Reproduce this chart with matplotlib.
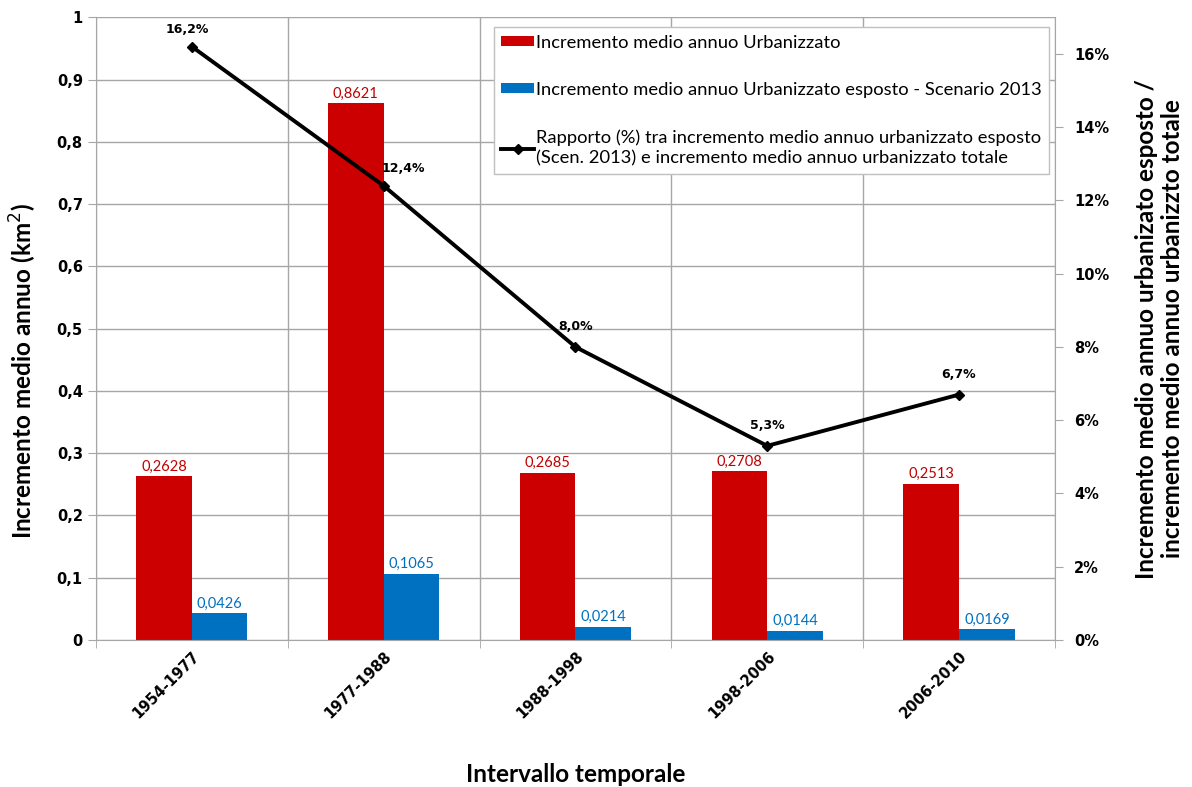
import matplotlib as mpl
mpl.use("Agg")
import matplotlib.pyplot as plt
import matplotlib.transforms as mtransforms
from matplotlib.ticker import FuncFormatter, MultipleLocator, FixedLocator
import numpy as np

periodi = ["1954-1977", "1977-1988", "1988-1998", "1998-2006", "2006-2010"]
urbanizzato = [0.2628, 0.8621, 0.2685, 0.2708, 0.2513]
esposto = [0.0426, 0.1065, 0.0214, 0.0144, 0.0169]
rapporto = [16.2, 12.4, 8.0, 5.3, 6.7]

lab_urb = "Incremento medio annuo Urbanizzato"
lab_esp = "Incremento medio annuo Urbanizzato esposto - Scenario 2013"
lab_rap = ("Rapporto (%) tra incremento medio annuo urbanizzato esposto\n"
           "(Scen. 2013) e incremento medio annuo urbanizzato totale")

RED = "#CC0000"
RED_TXT = "#C00000"
BLUE = "#0070C0"
GRID = "#A6A6A6"
SANS = ["Lato", "DejaVu Sans"]


def comma(v, _=None):
    s = f"{v:.1f}".replace(".", ",")
    return "0" if abs(v) < 1e-9 else ("1" if abs(v - 1) < 1e-9 else s)


fig = plt.figure(figsize=(11.92, 7.87), dpi=100)
ax = fig.add_axes([0.0805, 0.1868, 0.8045, 0.7912])
x = np.arange(len(periodi))
w = 0.29
b1 = ax.bar(x - w / 2, urbanizzato, w, color=RED, label=lab_urb, zorder=2)
b2 = ax.bar(x + w / 2, esposto, w, color=BLUE, label=lab_esp, zorder=2)
for bars, vals, col in [(b1, urbanizzato, RED_TXT), (b2, esposto, BLUE)]:
    for r, v in zip(bars, vals):
        ax.annotate(f"{v:.4f}".replace(".", ","),
                    (r.get_x() + r.get_width() / 2, v),
                    xytext=(0, 2), textcoords="offset points", ha="center",
                    va="bottom", color=col, fontsize=10.5, family=SANS)

ax.set_xlim(-0.5, len(periodi) - 0.5)
ax.set_ylim(0, 1)
ax.yaxis.set_major_locator(MultipleLocator(0.1))
ax.yaxis.set_major_formatter(FuncFormatter(comma))
ax.set_xticks(x)
ax.set_xticklabels(periodi, rotation=45, ha="right", rotation_mode="anchor",
                   fontsize=10.5, fontweight="bold")
offset = mtransforms.ScaledTranslation(-0.36, -0.14, fig.dpi_scale_trans)
for lbl in ax.get_xticklabels():
    lbl.set_transform(lbl.get_transform() + offset)
ax.xaxis.set_minor_locator(FixedLocator(np.arange(-0.5, len(periodi), 1.0)))
ax.tick_params(axis="x", which="major", length=0, pad=6)
ax.tick_params(axis="x", which="minor", length=6, color=GRID)
ax.tick_params(axis="y", length=6, color=GRID, labelsize=10.5)
for t in ax.get_yticklabels():
    t.set_fontweight("bold")
ax.grid(axis="y", color=GRID, lw=1, zorder=0)
ax.grid(axis="x", which="minor", color=GRID, lw=1, zorder=0)
ax.set_axisbelow(True)
for s in ["top", "right"]:
    ax.spines[s].set_visible(False)
for s in ["left", "bottom"]:
    ax.spines[s].set_color(GRID)
ax.set_ylabel("Incremento medio annuo (km$^2$)", fontsize=17.5,
              fontweight="bold", family=SANS, labelpad=13, y=0.432)
ax.set_xlabel("Intervallo temporale", fontsize=17.5, fontweight="bold",
              family=SANS, labelpad=30)

ax2 = ax.twinx()
ln, = ax2.plot(x, rapporto, color="black", lw=2.8, marker="D", ms=5,
               label=lab_rap, zorder=3)
offs = [(-3, 8), (14, 8), (0, 10), (0, 10), (0, 10)]
for xi, v, o in zip(x, rapporto, offs):
    ax2.annotate(f"{v:.1f}%".replace(".", ","), (xi, v), xytext=o,
                 textcoords="offset points", ha="center", va="bottom",
                 fontsize=9, fontweight="bold")
ax2.set_ylim(0, 17)
ax2.yaxis.set_major_locator(MultipleLocator(2))
ax2.yaxis.set_major_formatter(FuncFormatter(lambda v, _: f"{v:.0f}%"))
ax2.tick_params(axis="y", length=6, color=GRID, labelsize=10.5, pad=8)
for t in ax2.get_yticklabels():
    t.set_fontweight("bold")
for s in ["top", "left", "bottom"]:
    ax2.spines[s].set_visible(False)
ax2.spines["right"].set_color(GRID)
ax2.set_ylabel("Incremento medio annuo urbanizato esposto /\n"
               "incremento medio annuo urbanizzto totale", fontsize=17.5,
               fontweight="bold", family=SANS, labelpad=18)

leg = ax2.legend([b1, b2, ln], [lab_urb, lab_esp, lab_rap], loc="upper right",
                 bbox_to_anchor=(0.994, 0.984), fancybox=False, framealpha=1,
                 edgecolor="#C0C0C0", prop={"family": SANS, "size": 13.2},
                 labelspacing=1.7, handlelength=1.8, handleheight=0.5,
                 handletextpad=0.1, borderpad=0.4, borderaxespad=0)
for t in leg.get_texts():
    t.set_linespacing(1.4)
leg.get_frame().set_linewidth(1)

fig.savefig("out.png", dpi=100)
